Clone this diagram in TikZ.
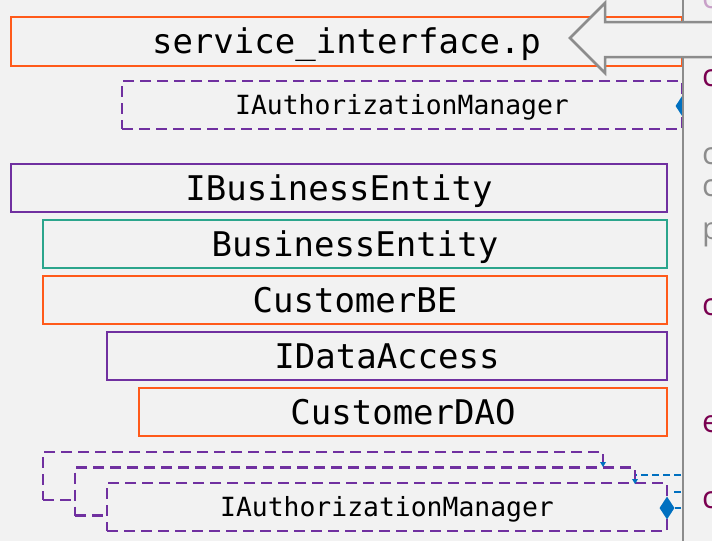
\documentclass[tikz,border=0pt]{standalone}
\usepackage{fontspec}
\newfontfamily\boxfont{DejaVu Sans Mono}
\newfontfamily\panelfont{Open Sans}
\usetikzlibrary{shapes.geometric}
\definecolor{bgc}{HTML}{F2F2F2}
\definecolor{orangec}{HTML}{FF5A1A}
\definecolor{purplec}{HTML}{7030A0}
\definecolor{tealc}{HTML}{2BA58C}
\definecolor{bluec}{HTML}{0070C0}
\definecolor{grayc}{HTML}{8C8C8C}
\definecolor{maroonc}{HTML}{7A0050}
\definecolor{lightpc}{HTML}{C8A0C8}
\begin{document}
\begin{tikzpicture}[x=1pt,y=-1pt,
  cls/.style={draw, line width=2.5pt, fill=bgc, inner sep=0pt,
    font=\boxfont\fontsize{34}{40}\selectfont, text height=24.8pt, text depth=0pt,
    minimum height=48pt},
  smalltext/.style={font=\boxfont\fontsize{26.4}{32}\selectfont, text height=19.3pt, text depth=0pt},
  iface/.style={cls, draw=purplec, dash pattern=on 11pt off 6pt, smalltext, minimum width=560pt},
  solidp/.style={cls, draw=purplec},
  solido/.style={cls, draw=orangec},
  solidt/.style={cls, draw=tealc},
  agg/.style={diamond, fill=bluec, draw=none, inner sep=0pt, minimum width=15pt, minimum height=23pt},
  link/.style={bluec, line width=2pt, dash pattern=on 7pt off 4pt},
  tip/.style={fill=bluec, draw=none},
  panel/.style={anchor=base west, inner sep=0pt, font=\panelfont\fontsize{31}{36}\selectfont}
]
\useasboundingbox (0,0) rectangle (712,541);
\clip (0,0) rectangle (712,541);
\fill[bgc] (0,0) rectangle (712,541);

% top class and its interface
\node[solido, minimum width=671pt, minimum height=49pt] (svc) at (346.5,41.5) {service\_interface.p};
\node[iface] (iam1) at (402,105) {IAuthorizationManager};
\node[agg] (d1) at (683,106) {};

% hierarchy
\node[solidp, minimum width=656pt] (ibe) at (339,188) {IBusinessEntity};
\node[solidt, minimum width=624pt] (be) at (355,244) {BusinessEntity};
\node[solido, minimum width=624pt] (cbe) at (355,300) {CustomerBE};
\node[solidp, minimum width=560pt] (ida) at (387,356) {IDataAccess};
\node[solido, minimum width=528pt] (dao) at (403,412) {CustomerDAO};

% stacked interfaces
\node[iface] (sa) at (323,476) {};
\node[iface] (sb) at (355,491.5) {};
\node[iface] (sc) at (387,507) {IAuthorizationManager};
\node[agg] (d2) at (667,508) {};

% small markers where the stacked cards meet
\fill[tip] (600,462) -- (606,462) -- (603,467) -- cycle;
\fill[tip] (632,479) -- (638,479) -- (635,484) -- cycle;

% blue connectors leaving to the right
\coordinate (e1) at (681,475);
\coordinate (e2) at (681,492);
\coordinate (e3) at (681,508);
\draw[link] (e1) -- (sb.north east |- e1);
\draw[link] (e2) -- ([xshift=5pt]sc.east |- e2);
\draw[link] (e3) -- (d2.east);

% right panel
\fill[bgc] (684,0) rectangle (712,541);
\draw[grayc, line width=2.5pt] (683,0) -- (683,541);

% big arrow
\draw[grayc, line width=2.5pt, fill=bgc, line join=miter]
  (714,22) -- (605,22) -- (605,3) -- (570,38) -- (605,73) -- (605,57) -- (714,57);

% clipped text of the panel
\node[panel, text=lightpc] (t0) at (702,8) {c};
\node[panel, text=maroonc] (t1) at (702,86) {c};
\node[panel, text=grayc] (t2) at (702,164) {c};
\node[panel, text=grayc] (t3) at (702,196) {c};
\node[panel, text=grayc] (t4) at (702,239) {p};
\node[panel, text=maroonc] (t5) at (702,315) {c};
\node[panel, text=maroonc] (t6) at (702,432) {e};
\node[panel, text=maroonc] (t7) at (702,508) {c};
\end{tikzpicture}
\end{document}
